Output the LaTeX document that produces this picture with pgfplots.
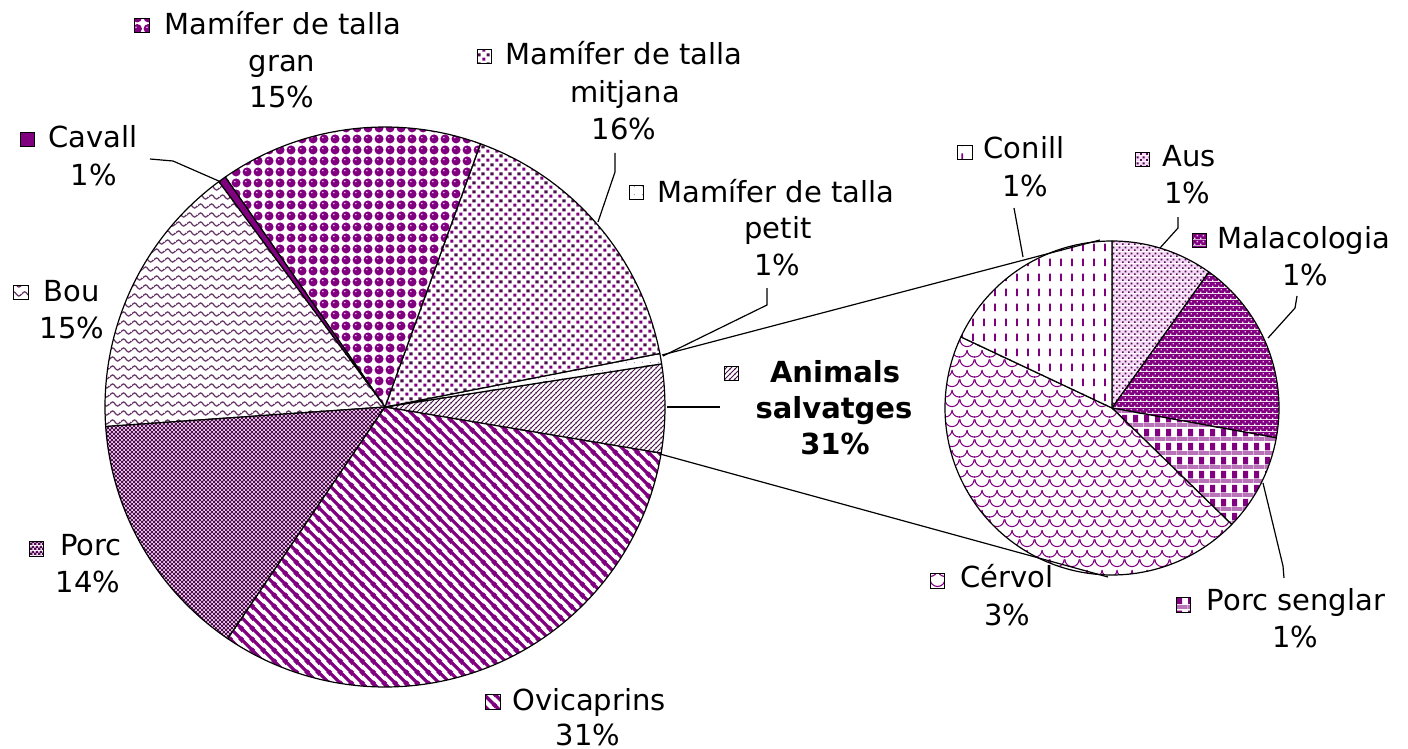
\documentclass[border=0pt]{standalone}
\usepackage{fontspec}
\setmainfont{DejaVu Sans}
\usepackage{pgfplots}
\pgfplotsset{compat=1.18}
\usepackage{pgfplotstable}
\usetikzlibrary{patterns,patterns.meta}

\definecolor{pur}{HTML}{800080}
\definecolor{dkp}{HTML}{4A104A}
\definecolor{pnk}{HTML}{F2C8F2}

% Excel-like fill patterns (1px = 0.5pt)
\tikzdeclarepattern{name=gran, type=colored,
  bottom left={(0pt,0pt)}, top right={(5.5pt,5.5pt)}, tile size={(5.5pt,5.5pt)},
  code={\fill[white] (0pt,0pt) rectangle (5.5pt,5.5pt);
        \fill[pur] (2.75pt,2.75pt) circle[radius=2.45pt];
        \fill[pnk] (2.1pt,3.5pt) circle[radius=0.45pt];}}
\tikzdeclarepattern{name=mitj, type=colored,
  bottom left={(0pt,0pt)}, top right={(4.3pt,4.3pt)}, tile size={(4.3pt,4.3pt)},
  code={\fill[white] (0pt,0pt) rectangle (4.3pt,4.3pt);
        \fill[pur] (0.2pt,0.2pt) rectangle +(1.6pt,1.6pt);
        \fill[dkp] (2.35pt,2.35pt) rectangle +(1.6pt,1.6pt);}}
\tikzdeclarepattern{name=petit, type=colored,
  bottom left={(0pt,0pt)}, top right={(4pt,4pt)}, tile size={(4pt,4pt)},
  code={\fill[white] (0pt,0pt) rectangle (4pt,4pt);
        \fill[pur!45] (1pt,1pt) rectangle +(0.6pt,0.6pt);}}
\tikzdeclarepattern{name=salv, type=colored,
  bottom left={(0pt,0pt)}, top right={(2.65pt,2.65pt)}, tile size={(2.65pt,2.65pt)},
  code={\fill[white] (0pt,0pt) rectangle (2.65pt,2.65pt);
        \draw[dkp, line width=0.5pt] (-0.5pt,-0.5pt) -- (3.15pt,3.15pt)
             (-0.5pt,2.15pt) -- (0.5pt,3.15pt) (2.15pt,-0.5pt) -- (3.15pt,0.5pt);}}
\tikzdeclarepattern{name=ovi, type=colored,
  bottom left={(0pt,0pt)}, top right={(5.5pt,5.5pt)}, tile size={(5.5pt,5.5pt)},
  code={\fill[white] (0pt,0pt) rectangle (5.5pt,5.5pt);
        \draw[pur, line width=1.75pt] (-0.9pt,6.4pt) -- (6.4pt,-0.9pt)
             (-0.9pt,0.9pt) -- (0.9pt,-0.9pt) (4.6pt,6.4pt) -- (6.4pt,4.6pt);}}
\tikzdeclarepattern{name=porc, type=colored,
  bottom left={(0pt,0pt)}, top right={(2.2pt,2.2pt)}, tile size={(2.2pt,2.2pt)},
  code={\fill[pnk] (0pt,0pt) rectangle (2.2pt,2.2pt);
        \fill[dkp] (0pt,0pt) rectangle (1.25pt,1.25pt);
        \fill[dkp] (1.1pt,1.1pt) rectangle (2.2pt,2.2pt);}}
\tikzdeclarepattern{name=bou, type=colored,
  bottom left={(0pt,0pt)}, top right={(5.5pt,4.25pt)}, tile size={(5.5pt,4.25pt)},
  code={\fill[white] (0pt,0pt) rectangle (5.5pt,4.25pt);
        \draw[dkp!85, line width=0.65pt] (0pt,2.1pt) sin (1.375pt,3.2pt) cos (2.75pt,2.1pt)
             sin (4.125pt,1pt) cos (5.5pt,2.1pt);}}
\tikzdeclarepattern{name=aus, type=colored,
  bottom left={(0pt,0pt)}, top right={(3pt,3pt)}, tile size={(3pt,3pt)},
  code={\fill[pnk!70] (0pt,0pt) rectangle (3pt,3pt);
        \fill[dkp] (0pt,0pt) rectangle (1pt,1pt);
        \fill[dkp] (1.5pt,1.5pt) rectangle (2.5pt,2.5pt);}}
\tikzdeclarepattern{name=mala, type=colored,
  bottom left={(0pt,0pt)}, top right={(3pt,3pt)}, tile size={(3pt,3pt)},
  code={\fill[pur] (0pt,0pt) rectangle (3pt,3pt);
        \fill[white] (0pt,0pt) rectangle (0.8pt,0.8pt);
        \fill[pnk] (1.5pt,1.5pt) rectangle (2.3pt,2.3pt);}}
\tikzdeclarepattern{name=sengl, type=colored,
  bottom left={(0pt,0pt)}, top right={(5.5pt,7pt)}, tile size={(5.5pt,7pt)},
  code={\fill[white] (0pt,0pt) rectangle (5.5pt,7pt);
        \fill[pur] (0pt,2.5pt) rectangle (2.75pt,6.4pt);
        \fill[pur!55] (0pt,0pt) rectangle (5.5pt,2pt);}}
\tikzdeclarepattern{name=cerv, type=colored,
  bottom left={(0pt,0pt)}, top right={(7.5pt,10pt)}, tile size={(7.5pt,10pt)},
  code={\fill[white] (0pt,0pt) rectangle (7.5pt,10pt);
        \draw[pur, line width=0.55pt]
          (-3.75pt,10pt) arc[start angle=180, end angle=360, radius=3.75pt]
          (3.75pt,10pt) arc[start angle=180, end angle=360, radius=3.75pt]
          (0pt,5pt) arc[start angle=180, end angle=360, radius=3.75pt];}}
\tikzdeclarepattern{name=conill, type=colored,
  bottom left={(0pt,0pt)}, top right={(5.5pt,7.5pt)}, tile size={(5.5pt,7.5pt)},
  code={\fill[white] (0pt,0pt) rectangle (5.5pt,7.5pt);
        \draw[pur, line width=1pt] (2.75pt,1.5pt) -- (2.75pt,5.5pt);}}

\tikzset{
  slice/.style={draw=black, line width=0.6pt, line join=round},
  s-salv/.style={pattern=salv}, s-petit/.style={pattern=petit},
  s-mitj/.style={pattern=mitj}, s-gran/.style={pattern=gran},
  s-cav/.style={fill=pur}, s-bou/.style={pattern=bou},
  s-porc/.style={pattern=porc}, s-ovi/.style={pattern=ovi},
  s-aus/.style={pattern=aus}, s-mala/.style={pattern=mala},
  s-sengl/.style={pattern=sengl}, s-cerv/.style={pattern=cerv},
  s-conill/.style={pattern=conill},
}

% main pie, counter-clockwise from the "Animals salvatges" slice
\pgfplotstableread{
part  pct   sty
salv  5.1   s-salv
petit 0.6   s-petit
mitj  16.4  s-mitj
gran  15.2  s-gran
cav   0.45  s-cav
bou   16.0  s-bou
porc  14.4  s-porc
ovi   31.85 s-ovi
}\mainpie

% second pie (breakdown of Animals salvatges), clockwise from the top
\pgfplotstableread{
part   pct   sty
aus    0.69  s-aus
mala   1.26  s-mala
sengl  0.66  s-sengl
cerv   3.13  s-cerv
conill 1.26  s-conill
}\wildpie

% #1 table, #2 cx, #3 cy, #4 radius, #5 start angle, #6 degrees per unit
\newcommand\drawpie[6]{%
  \pgfplotstablegetrowsof{#1}\pgfmathtruncatemacro\nlast{\pgfplotsretval-1}%
  \edef\acc{#5}%
  \pgfplotsforeachungrouped \i in {0,...,\nlast}{%
    \pgfplotstablegetelem{\i}{pct}\of#1\let\val\pgfplotsretval
    \pgfplotstablegetelem{\i}{sty}\of#1\let\sty\pgfplotsretval
    \pgfmathsetmacro\aend{\acc+(#6)*\val}%
    \edef\cmd{\noexpand\filldraw[slice,\sty] (axis cs:#2,#3) -- ++(\acc:#4)
      arc[start angle=\acc, end angle=\aend, radius=#4] -- cycle;}%
    \cmd
    \let\acc\aend
  }}

\newcommand\lab[3]{\node[anchor=base, inner sep=0pt,
  font=\fontsize{14.5pt}{18pt}\selectfont] at (axis cs:#1,#2) {#3};}
\newcommand\key[3]{\filldraw[draw=black, line width=0.6pt, #3]
  (axis cs:#1,#2) ++(-3.6pt,-3.6pt) rectangle ++(7.2pt,7.2pt);}

\begin{document}
\begin{tikzpicture}
\begin{axis}[
  width=704pt, height=374.5pt, scale only axis,
  xmin=0, xmax=1408, ymin=0, ymax=749, y dir=reverse,
  hide axis, clip=false,
]
\path (axis cs:0,0) rectangle (axis cs:1408,749);
\pgfplotsextra{%
  \drawpie{\mainpie}{385}{407}{140pt}{-9.5}{3.6}%
  \drawpie{\wildpie}{1112}{408}{83.5pt}{90}{-51.4286}%
}
% connectors between the pies
\draw[black, line width=0.6pt] (axis cs:662,355) -- (axis cs:1100,240);
\draw[black, line width=0.6pt] (axis cs:660,454) -- (axis cs:1108,577);
% leader lines
\draw[black, line width=0.6pt] (axis cs:150,159) -- (axis cs:173,161) -- (axis cs:221,182);
\draw[black, line width=0.6pt] (axis cs:615,153) -- (axis cs:615,172) -- (axis cs:598,222);
\draw[black, line width=0.6pt] (axis cs:767,288) -- (axis cs:767,305) -- (axis cs:663,356);
\draw[black, line width=0.6pt] (axis cs:667,407) -- (axis cs:720,407);
\draw[black, line width=0.6pt] (axis cs:1014,208) -- (axis cs:1023,257);
\draw[black, line width=0.6pt] (axis cs:1178,217) -- (axis cs:1178,228) -- (axis cs:1160,248);
\draw[black, line width=0.6pt] (axis cs:1297,296) -- (axis cs:1295,308) -- (axis cs:1268,338);
\draw[black, line width=0.6pt] (axis cs:1284,578) -- (axis cs:1283,566) -- (axis cs:1263,483);
% legend keys
\key{142}{25.5}{s-gran}
\key{484.5}{56.5}{s-mitj}
\key{636.5}{192.5}{s-petit}
\key{27.5}{139.5}{s-cav}
\key{21}{292.5}{s-bou}
\key{36.5}{549}{s-porc}
\key{731.5}{373.5}{s-salv}
\key{493}{702}{s-ovi}
\key{965}{152.5}{s-conill}
\key{1142.5}{159.5}{s-aus}
\key{1199.5}{240.5}{s-mala}
\key{937.5}{581}{s-cerv}
\key{1183.5}{605}{s-sengl}
% labels
\lab{283}{35}{Mamífer de talla}\lab{282}{72}{gran}\lab{282}{108}{15\%}
\lab{624}{65}{Mamífer de talla}\lab{625}{103}{mitjana}\lab{624}{140}{16\%}
\lab{776}{202}{Mamífer de talla}\lab{778}{238}{petit}\lab{777}{275}{1\%}
\lab{93}{148}{Cavall}\lab{94}{185}{1\%}
\lab{72}{301}{Bou}\lab{72}{338}{15\%}
\lab{91}{555}{Porc}\lab{88}{592}{14\%}
\lab{835}{382}{\bfseries Animals}\lab{834}{418}{\bfseries salvatges}\lab{835}{454}{\bfseries 31\%}
\lab{589}{710}{Ovicaprins}\lab{588}{745}{31\%}
\lab{1024}{159}{Conill}\lab{1025}{197}{1\%}
\lab{1189}{167}{Aus}\lab{1187}{203}{1\%}
\lab{1304}{248}{Malacologia}\lab{1305}{285}{1\%}
\lab{1007}{587}{Cérvol}\lab{1007}{625}{3\%}
\lab{1296}{610}{Porc senglar}\lab{1295}{647}{1\%}
\end{axis}
\end{tikzpicture}
\end{document}
